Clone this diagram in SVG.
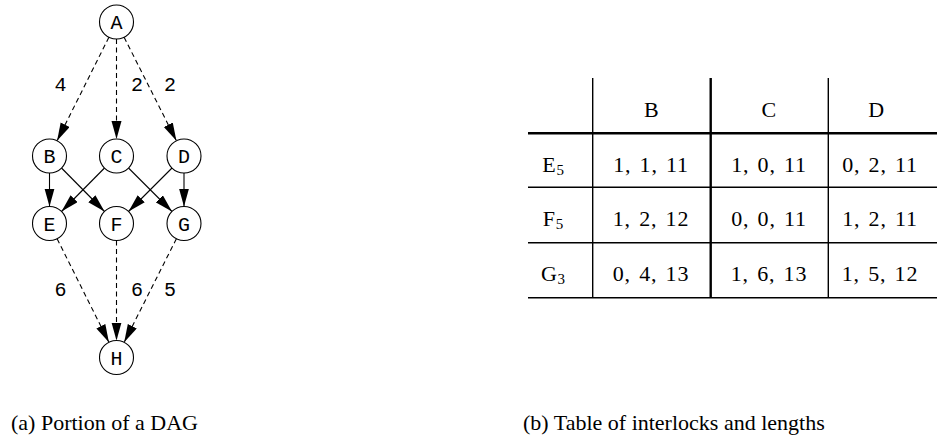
<svg xmlns="http://www.w3.org/2000/svg" width="937" height="439" viewBox="0 0 937 439">
<style>
.node circle{fill:#fff;stroke:#000;stroke-width:1.1}
.node text{font-family:"Liberation Mono","DejaVu Sans Mono",monospace;font-size:20px;text-anchor:middle;fill:#000}
.e{fill:none;stroke:#000;stroke-width:1.1}
.d{stroke-dasharray:5,3.5}
.lbl{font-family:"Liberation Mono","DejaVu Sans Mono",monospace;font-size:20px;text-anchor:middle;fill:#000}
.t{font-family:"Liberation Serif","Times New Roman",serif;font-size:22px;text-anchor:middle;fill:#000;letter-spacing:0.8px;word-spacing:2px}
.sub{font-size:15px;letter-spacing:0}
.cap{font-family:"Liberation Serif","Times New Roman",serif;font-size:22px;fill:#000}
.thin{stroke:#000;stroke-width:1.4}
.thick{stroke:#000;stroke-width:2.6}
</style>
<defs>
<marker id="ah" markerUnits="userSpaceOnUse" markerWidth="19" markerHeight="11" refX="18" refY="5" orient="auto">
<path d="M0,0 L18,5 L0,10 z" fill="#000"/>
</marker>
</defs>
<g id="connectors">
<path class="e d" d="M108.9,37.2 L57.1,140.8" marker-end="url(#ah)"/>
<path class="e d" d="M116.5,39 L116.5,139" marker-end="url(#ah)"/>
<path class="e d" d="M124.1,37.2 L176.4,140.8" marker-end="url(#ah)"/>
<path class="e" d="M49.5,173 L49.5,206.5" marker-end="url(#ah)"/>
<path class="e" d="M61.5,168 L104.5,211.5" marker-end="url(#ah)"/>
<path class="e" d="M104.5,168 L61.5,211.5" marker-end="url(#ah)"/>
<path class="e" d="M128.5,168 L172,211.5" marker-end="url(#ah)"/>
<path class="e" d="M172,168 L128.5,211.5" marker-end="url(#ah)"/>
<path class="e" d="M184,173 L184,206.5" marker-end="url(#ah)"/>
<path class="e d" d="M57.1,238.7 L108.9,342.3" marker-end="url(#ah)"/>
<path class="e d" d="M116.5,240.5 L116.5,340.5" marker-end="url(#ah)"/>
<path class="e d" d="M176.4,238.7 L124.2,342.3" marker-end="url(#ah)"/>
<text class="lbl" x="60.5" y="91">4</text>
<text class="lbl" x="137" y="91">2</text>
<text class="lbl" x="170" y="91">2</text>
<text class="lbl" x="60.5" y="296">6</text>
<text class="lbl" x="137" y="296">6</text>
<text class="lbl" x="170" y="296">5</text>
</g>
<g id="A" class="node"><circle cx="116.5" cy="22" r="17"/><text x="116.5" y="29">A</text></g>
<g id="B" class="node"><circle cx="49.5" cy="156" r="17"/><text x="49.5" y="163">B</text></g>
<g id="C" class="node"><circle cx="116.5" cy="156" r="17"/><text x="116.5" y="163">C</text></g>
<g id="D" class="node"><circle cx="184" cy="156" r="17"/><text x="184" y="163">D</text></g>
<g id="E" class="node"><circle cx="49.5" cy="223.5" r="17"/><text x="49.5" y="230.5">E</text></g>
<g id="F" class="node"><circle cx="116.5" cy="223.5" r="17"/><text x="116.5" y="230.5">F</text></g>
<g id="G" class="node"><circle cx="184" cy="223.5" r="17"/><text x="184" y="230.5">G</text></g>
<g id="H" class="node"><circle cx="116.5" cy="357.5" r="17"/><text x="116.5" y="364.5">H</text></g>
<g id="table">
<line class="thin" x1="592.7" y1="78" x2="592.7" y2="297"/>
<line class="thick" x1="710.7" y1="78" x2="710.7" y2="297" style="stroke-width:2.4"/>
<line class="thin" x1="828.3" y1="78" x2="828.3" y2="297"/>
<line class="thick" x1="528" y1="133.3" x2="937" y2="133.3"/>
<line class="thin" x1="528" y1="187.3" x2="937" y2="187.3"/>
<line class="thin" x1="528" y1="242.7" x2="937" y2="242.7"/>
<line class="thin" x1="528" y1="297.7" x2="937" y2="297.7"/>
<text class="t" x="651.7" y="117">B</text>
<text class="t" x="769.3" y="117">C</text>
<text class="t" x="876.7" y="117">D</text>
<text class="t" x="553" y="171.7">E<tspan class="sub" dy="3">5</tspan></text>
<text class="t" x="553" y="226">F<tspan class="sub" dy="3">5</tspan></text>
<text class="t" x="553" y="281">G<tspan class="sub" dy="3">3</tspan></text>
<text class="t" x="651" y="171.7">1, 1, 11</text>
<text class="t" x="769" y="171.7">1, 0, 11</text>
<text class="t" x="880" y="171.7">0, 2, 11</text>
<text class="t" x="651" y="226">1, 2, 12</text>
<text class="t" x="769" y="226">0, 0, 11</text>
<text class="t" x="880" y="226">1, 2, 11</text>
<text class="t" x="651" y="281">0, 4, 13</text>
<text class="t" x="769" y="281">1, 6, 13</text>
<text class="t" x="880" y="281">1, 5, 12</text>
</g>
<text class="cap" x="11" y="429.5">(a) Portion of a DAG</text>
<text class="cap" x="523" y="429.5">(b) Table of interlocks and lengths</text>
</svg>
